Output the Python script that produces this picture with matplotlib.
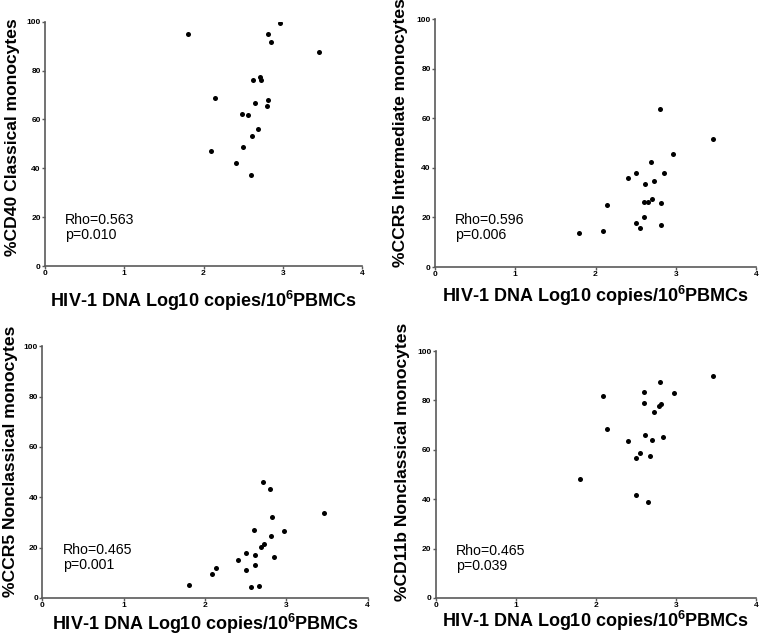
import matplotlib
matplotlib.use("Agg")
import matplotlib.pyplot as plt
from matplotlib.transforms import Affine2D

plt.rcParams['font.family'] = ['Liberation Sans', 'DejaVu Sans']
plt.rcParams['mathtext.fontset'] = 'custom'
plt.rcParams['mathtext.rm'] = 'Liberation Sans:bold'
plt.rcParams['mathtext.bf'] = 'Liberation Sans:bold'
plt.rcParams['mathtext.default'] = 'bf'

# HIV-1 DNA (log10 copies / 10^6 PBMCs), read per panel
x_cd40_classical = [1.80, 2.97, 2.82, 2.85, 3.46, 2.71, 2.73, 2.62, 2.14, 2.81,
                    2.65, 2.80, 2.49, 2.56, 2.69, 2.61, 2.09, 2.50, 2.41, 2.60]
y_cd40_classical = [94.8, 99.6, 95.1, 91.6, 87.5, 77.5, 76.1, 76.1, 68.9, 67.9,
                    66.6, 65.6, 62.1, 61.8, 56.2, 53.3, 47.1, 48.8, 42.2, 37.1]

x_ccr5_intermediate = [2.80, 3.46, 2.97, 2.69, 2.50, 2.85, 2.41, 2.73, 2.62, 2.14,
                       2.60, 2.66, 2.71, 2.82, 2.61, 2.50, 2.56, 2.81, 1.80, 2.09]
y_ccr5_intermediate = [63.7, 51.6, 45.4, 42.2, 38.0, 38.0, 35.7, 34.7, 33.5, 25.1,
                       26.1, 26.1, 27.5, 25.7, 20.2, 17.6, 15.9, 17.1, 13.6, 14.5]

x_ccr5_nonclassical = [2.71, 2.80, 3.46, 2.82, 2.60, 2.97, 2.81, 2.73, 2.69, 2.50,
                       2.62, 2.85, 2.41, 2.61, 2.50, 2.14, 2.09, 1.80, 2.56, 2.66]
y_ccr5_nonclassical = [46.0, 43.2, 33.8, 32.3, 26.9, 26.6, 24.5, 21.3, 20.4, 17.8,
                       17.1, 16.4, 15.2, 13.0, 11.1, 11.8, 9.7, 5.3, 4.5, 4.9]

x_cd11b_nonclassical = [3.46, 2.80, 2.60, 2.97, 2.09, 2.60, 2.81, 2.79, 2.72, 2.14,
                        2.61, 2.84, 2.40, 2.70, 2.55, 2.50, 2.68, 1.80, 2.50, 2.65]
y_cd11b_nonclassical = [90.0, 87.4, 83.5, 83.0, 81.8, 78.8, 78.5, 77.6, 75.3, 68.3,
                        66.1, 65.3, 63.7, 64.0, 58.8, 56.7, 57.4, 48.1, 41.7, 38.9]

ylabels = ['%CD40 Classical monocytes', '%CCR5 Intermediate monocytes',
           '%CCR5 Nonclassical monocytes', '%CD11b Nonclassical monocytes']
stats = ['Rho=0.563\np=0.010', 'Rho=0.596\np=0.006',
         'Rho=0.465\np=0.001', 'Rho=0.465\np=0.039']
xlabel = r'HIV-1 DNA Log10 copies/10$^{6}$PBMCs'

xs = [x_cd40_classical, x_ccr5_intermediate, x_ccr5_nonclassical, x_cd11b_nonclassical]
ys = [y_cd40_classical, y_ccr5_intermediate, y_ccr5_nonclassical, y_cd11b_nonclassical]

W, H = 760, 644
# axes boxes in pixels: left, top, right, bottom
boxes = [
    (45, 21.7, 362, 266),
    (435, 19, 756, 267),
    (42.3, 346.3, 367.7, 598),
    (435.7, 351, 756, 598),
]
# y label centre (x, y) and x label baseline y, in pixels
ylab_pos = [(12.5, 137.5), (401, 133), (10.5, 461.5), (403, 462)]
xlab_base = [307, 302, 630, 627]

fig = plt.figure(figsize=(W / 100, H / 100), dpi=100)
spine_col = '#5a5a5a'
# pixel coords (from top-left) -> figure fraction
pix = Affine2D().scale(1.0 / W, -1.0 / H).translate(0, 1) + fig.transFigure

for i in range(4):
    l, t, r, b = boxes[i]
    ax = fig.add_axes([l / W, 1 - b / H, (r - l) / W, (b - t) / H])
    ax.scatter(xs[i], ys[i], s=13, color='black', zorder=3, linewidths=0)
    ax.set_xlim(0, 4)
    ax.set_ylim(0, 100)
    ax.set_xticks([0, 1, 2, 3, 4])
    ax.set_yticks([0, 20, 40, 60, 80, 100])
    for side in ['top', 'right']:
        ax.spines[side].set_visible(False)
    for side in ['left', 'bottom']:
        ax.spines[side].set_color(spine_col)
        ax.spines[side].set_linewidth(1.2)
    ax.tick_params(direction='out', length=2.2, width=1.0, color=spine_col,
                   labelsize=6, pad=0.8)
    for lab in ax.get_xticklabels() + ax.get_yticklabels():
        lab.set_fontweight('bold')

    ax.set_ylabel(ylabels[i], fontsize=12.6, fontweight='bold')
    ax.yaxis.label.set_va('center')
    ax.yaxis.set_label_coords(ylab_pos[i][0], ylab_pos[i][1], transform=pix)

    ax.set_xlabel(xlabel, fontsize=13, fontweight='bold')
    ax.xaxis.label.set_va('baseline')
    ax.xaxis.set_label_coords((l + r) / 2, xlab_base[i], transform=pix)

    ax.text(0.25, 21.8, stats[i], fontsize=10.2, va='top', ha='left',
            linespacing=1.1)

plt.savefig('out.png', dpi=100)
